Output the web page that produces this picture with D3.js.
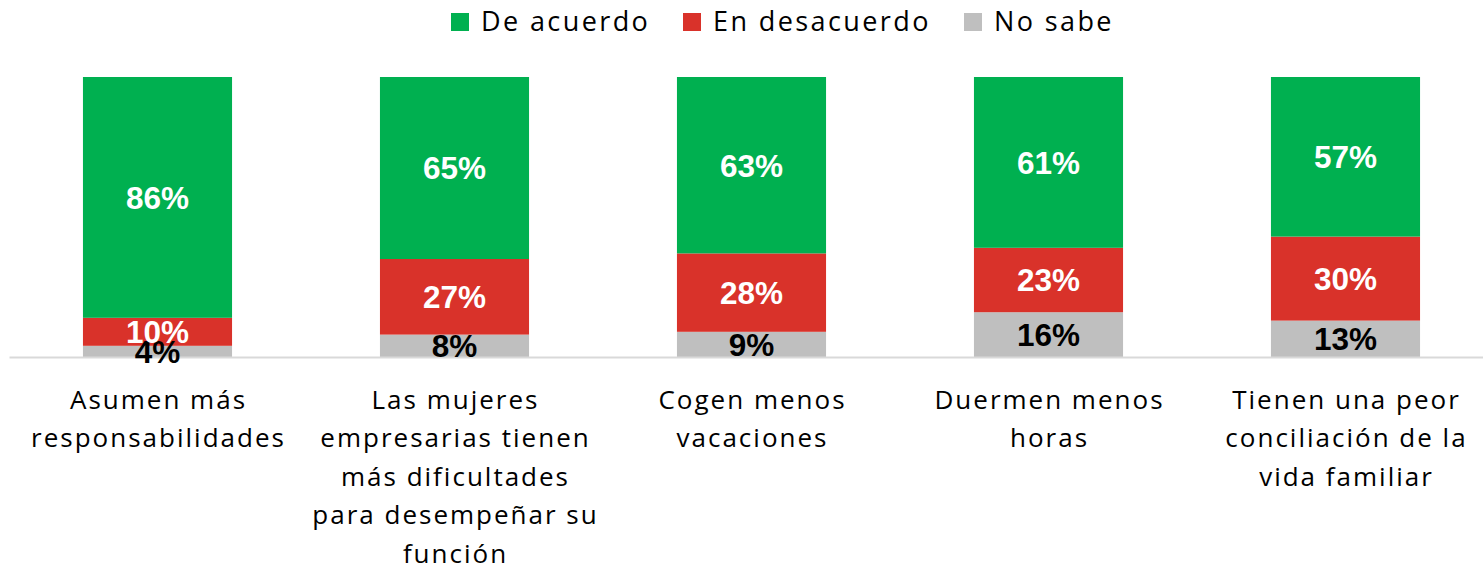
<!DOCTYPE html>
<html>
<head>
<meta charset="utf-8">
<script src="https://cdn.jsdelivr.net/npm/d3@7"></script>
<style>
  body { margin: 0; background: #fff; }
  svg { display: block; }
</style>
</head>
<body>
<div id="chart-area"></div>
<script>
// data
var categories = ["Asumen", "Mujeres", "Cogen", "Duermen", "Tienen"];
var categoryLines = [
  ["Asumen más", "responsabilidades"],
  ["Las mujeres", "empresarias tienen", "más dificultades", "para desempeñar su", "función"],
  ["Cogen menos", "vacaciones"],
  ["Duermen menos", "horas"],
  ["Tienen una peor", "conciliación de la", "vida familiar"]
];
var seriesNames = ["No sabe", "En desacuerdo", "De acuerdo"];
var noSabe = [4, 8, 9, 16, 13];
var desacuerdo = [10, 27, 28, 23, 30];
var deAcuerdo = [86, 65, 63, 61, 57];
var legendOrder = ["De acuerdo", "En desacuerdo", "No sabe"];

var colors = {"De acuerdo": "#00b050", "En desacuerdo": "#d9322a", "No sabe": "#bfbfbf"};
var labelColors = {"De acuerdo": "#fff", "En desacuerdo": "#fff", "No sabe": "#000"};

var width = 1483;
var height = 566;
var axisY = 357;

var svg = d3.select("#chart-area").append("svg")
    .attr("width", width)
    .attr("height", height);

var rows = categories.map(function(c, i) {
  return {cat: c, "No sabe": noSabe[i], "En desacuerdo": desacuerdo[i], "De acuerdo": deAcuerdo[i]};
});
var stacked = d3.stack().keys(seriesNames)(rows);

var x = d3.scaleBand()
    .domain(categories)
    .range([9, 1494])
    .paddingInner(0.498)
    .paddingOuter(0.249);
var y = d3.scaleLinear()
    .domain([0, 100])
    .range([axisY, 77]);

// bars
var layers = svg.selectAll("g.layer").data(stacked).enter().append("g")
    .attr("class", "layer")
    .attr("fill", function(d) { return colors[d.key]; });
layers.selectAll("rect").data(function(d) { return d; }).enter().append("rect")
    .attr("x", function(d) { return x(d.data.cat); })
    .attr("y", function(d) { return y(d[1]); })
    .attr("width", x.bandwidth())
    .attr("height", function(d) { return y(d[0]) - y(d[1]); });

// axis line
var axis = svg.append("g")
    .attr("transform", "translate(0," + axisY + ")")
    .call(d3.axisBottom(x).tickSize(0).tickSizeOuter(0).tickFormat(""));
axis.select(".domain").attr("stroke", "#d9d9d9").attr("stroke-width", 2);

// value labels
stacked.forEach(function(layer) {
  svg.append("g").selectAll("text").data(layer).enter().append("text")
      .attr("x", function(d) { return x(d.data.cat) + x.bandwidth() / 2; })
      .attr("y", function(d) { return (y(d[0]) + y(d[1])) / 2; })
      .attr("dy", "0.36em")
      .attr("text-anchor", "middle")
      .attr("font-family", "Liberation Sans, Arial, sans-serif")
      .attr("font-weight", "bold")
      .attr("font-size", "31.5px")
      .attr("fill", labelColors[layer.key])
      .text(function(d) { return (d[1] - d[0]) + "%"; });
});

// category labels
var catLabels = svg.append("g").selectAll("text").data(categories).enter().append("text")
    .attr("text-anchor", "middle")
    .attr("font-family", "Open Sans, sans-serif")
    .attr("font-size", "26px")
    .attr("letter-spacing", "2px")
    .attr("fill", "#000");
catLabels.each(function(d, i) {
  var t = d3.select(this);
  categoryLines[i].forEach(function(line, j) {
    t.append("tspan")
        .attr("x", x(d) + x.bandwidth() / 2 + 1)
        .attr("y", 409 + j * 38.4)
        .text(line);
  });
});

// legend
var legendX = [451, 683, 964];
var legend = svg.append("g");
legendOrder.forEach(function(name, i) {
  var row = legend.append("g").attr("transform", "translate(" + legendX[i] + ",13)");
  row.append("rect")
      .attr("width", 18)
      .attr("height", 18)
      .attr("fill", colors[name]);
  row.append("text")
      .attr("x", 30)
      .attr("y", 18)
      .attr("font-family", "Open Sans, sans-serif")
      .attr("font-size", "27px")
      .attr("letter-spacing", "2.4px")
      .attr("fill", "#000")
      .text(name);
});
</script>
</body>
</html>
